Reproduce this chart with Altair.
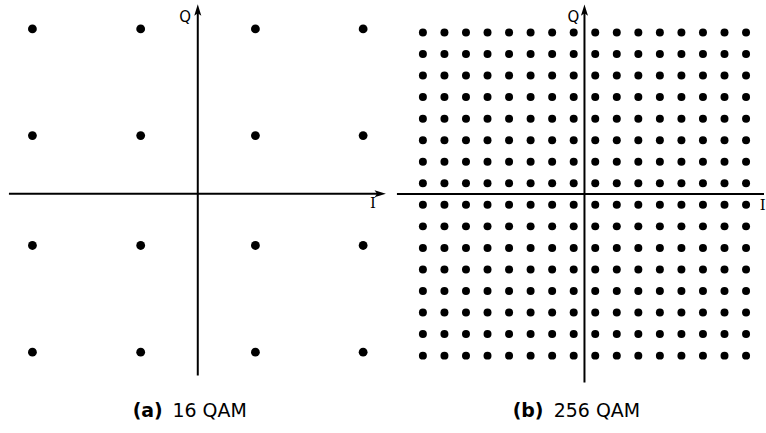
import altair as alt
import pandas as pd

# ---- data ----
qam16_I = [-3.07, -1.06, 1.07, 3.07]
qam16_Q = [3.06, 1.08, -0.96, -2.94]
qam256_I = [-15, -13, -11, -9, -7, -5, -3, -1, 1, 3, 5, 7, 9, 11, 13, 15]
qam256_Q = [-15, -13, -11, -9, -7, -5, -3, -1, 1, 3, 5, 7, 9, 11, 13, 15]
cap_tags = ["(a)", "(b)"]
cap_names = ["16 QAM", "256 QAM"]

ARROW_UP = "M 0 -1 L 0.62 1 L 0 0.55 L -0.62 1 Z"
ARROW_RIGHT = "M 1 0 L -1 -0.62 L -0.55 0 L -1 0.62 Z"


def panel(I_levels, Q_levels, cfg, tag, name):
    width, height = cfg["width"], cfg["height"]
    xs = alt.Scale(domain=cfg["xdom"], nice=False, zero=False)
    ys = alt.Scale(domain=cfg["ydom"], nice=False, zero=False)

    pts = pd.DataFrame([{"I": i, "Q": q} for q in Q_levels for i in I_levels])
    dots = alt.Chart(pts).mark_circle(size=cfg["dot"], color="black", opacity=1).encode(
        x=alt.X("I:Q", scale=xs, axis=None), y=alt.Y("Q:Q", scale=ys, axis=None)
    )

    hx0, hx1, hy = cfg["haxis"]
    vx, vy0, vy1 = cfg["vaxis"]
    hrule = alt.Chart(pd.DataFrame({"a": [hx0], "b": [hx1], "y": [hy]})).mark_rule(
        color="black", strokeWidth=2
    ).encode(x=alt.X("a:Q", scale=xs, axis=None), x2="b:Q", y=alt.Y("y:Q", scale=ys, axis=None))
    vrule = alt.Chart(pd.DataFrame({"x": [vx], "a": [vy0], "b": [vy1]})).mark_rule(
        color="black", strokeWidth=2
    ).encode(x=alt.X("x:Q", scale=xs, axis=None), y=alt.Y("a:Q", scale=ys, axis=None), y2="b:Q")

    layers = [dots, hrule, vrule]

    ax, ay = cfg["uparrow"]
    layers.append(
        alt.Chart(pd.DataFrame({"x": [ax], "y": [ay]})).mark_point(
            shape=ARROW_UP, filled=True, size=130, color="black", opacity=1, strokeWidth=0
        ).encode(x=alt.X("x:Q", scale=xs, axis=None), y=alt.Y("y:Q", scale=ys, axis=None))
    )
    if cfg.get("rightarrow"):
        rx, ry = cfg["rightarrow"]
        layers.append(
            alt.Chart(pd.DataFrame({"x": [rx], "y": [ry]})).mark_point(
                shape=ARROW_RIGHT, filled=True, size=130, color="black", opacity=1, strokeWidth=0
            ).encode(x=alt.X("x:Q", scale=xs, axis=None), y=alt.Y("y:Q", scale=ys, axis=None))
        )

    qx, qy = cfg["qlabel"]
    ix, iy = cfg["ilabel"]
    layers.append(
        alt.Chart(pd.DataFrame({"x": [qx], "y": [qy], "t": ["Q"]})).mark_text(
            font="DejaVu Sans", fontSize=15, align="center", baseline="middle", color="black"
        ).encode(x=alt.X("x:Q", scale=xs, axis=None), y=alt.Y("y:Q", scale=ys, axis=None), text="t:N")
    )
    layers.append(
        alt.Chart(pd.DataFrame({"x": [ix], "y": [iy], "t": ["I"]})).mark_text(
            font="DejaVu Serif", fontSize=15, align="center", baseline="middle", color="black"
        ).encode(x=alt.X("x:Q", scale=xs, axis=None), y=alt.Y("y:Q", scale=ys, axis=None), text="t:N")
    )

    tx, nx, cy = cfg["caption"]
    layers.append(
        alt.Chart(pd.DataFrame({"x": [tx], "y": [cy], "t": [tag]})).mark_text(
            font="DejaVu Sans", fontSize=19, fontWeight="bold", align="right", baseline="middle", color="black"
        ).encode(x=alt.X("x:Q", scale=xs, axis=None), y=alt.Y("y:Q", scale=ys, axis=None), text="t:N")
    )
    layers.append(
        alt.Chart(pd.DataFrame({"x": [nx], "y": [cy], "t": [name]})).mark_text(
            font="DejaVu Sans", fontSize=19, align="left", baseline="middle", color="black"
        ).encode(x=alt.X("x:Q", scale=xs, axis=None), y=alt.Y("y:Q", scale=ys, axis=None), text="t:N")
    )

    return alt.layer(*layers).properties(width=width, height=height)


cfg16 = dict(
    width=390, height=433,
    xdom=[-3.672, 3.550], ydom=[-4.431, 3.587], dot=78,
    haxis=(-3.506, 3.37, 0.0), vaxis=(0.0, -3.376, 3.37),
    uparrow=(0.0, 3.411), rightarrow=(3.387, 0.0),
    qlabel=(-0.233, 3.278), ilabel=(3.254, -0.17),
    caption=(-0.65, -0.47, -4.04),
)
cfg256 = dict(
    width=376, height=433,
    xdom=[-18.148, 16.667], ydom=[-22.13, 17.963], dot=64,
    haxis=(-17.41, 16.667, 0.0), vaxis=(0.0, -17.5, 16.85),
    uparrow=(0.0, 17.08),
    qlabel=(-1.02, 16.42), ilabel=(16.55, -1.02),
    caption=(-3.8, -2.85, -20.16),
)

chart = alt.hconcat(
    panel(qam16_I, qam16_Q, cfg16, cap_tags[0], cap_names[0]),
    panel(qam256_I, qam256_Q, cfg256, cap_tags[1], cap_names[1]),
    spacing=0,
).properties(padding=0).configure_view(stroke=None)

chart.save("out.html", embed_options={"renderer": "svg", "actions": False})
